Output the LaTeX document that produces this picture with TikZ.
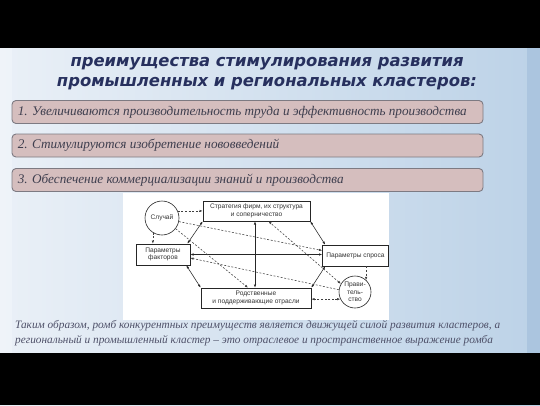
\documentclass[tikz,border=0pt]{standalone}
\usepackage{fontspec}
\setmainfont{Liberation Serif}
\newfontfamily\titlefont{DejaVu Sans}
\newfontfamily\diagfont{Liberation Sans}
\usetikzlibrary{arrows.meta,calc}
\definecolor{titleblue}{HTML}{27305E}
\definecolor{boxfill}{HTML}{D5BEBE}
\definecolor{boxline}{HTML}{7D7A82}
\definecolor{boxtext}{HTML}{3E3E4E}
\definecolor{bgleft}{HTML}{EAF0F7}
\definecolor{bgright}{HTML}{BCD2E7}
\definecolor{edgeright}{HTML}{A7C2DD}
\definecolor{bottomcol}{HTML}{4E5068}
\tikzset{
  item/.style={draw=boxline, line width=0.9pt, fill=boxfill, rounded corners=4pt,
    minimum width=471pt, minimum height=23pt, inner sep=0pt},
  itemtext/.style={anchor=west, text=boxtext, font=\itshape\fontsize{13.2}{15}\selectfont, inner sep=0pt},
  dbox/.style={draw=black!85, line width=0.6pt, fill=white, inner sep=0pt, align=center,
    font=\diagfont\fontsize{6.6}{7.6}\selectfont, text=black!80},
  dcirc/.style={draw=black!85, line width=0.6pt, fill=white, circle, inner sep=0pt, align=center,
    font=\diagfont\fontsize{6.6}{7.4}\selectfont, text=black!80},
  solidlink/.style={line width=0.55pt, black!85, {Latex[length=3.2pt,width=2.4pt]}-{Latex[length=3.2pt,width=2.4pt]}},
  dashlink/.style={line width=0.55pt, black!75, dashed, dash pattern=on 2pt off 1.6pt, -{Latex[length=3.2pt,width=2.4pt]}},
  dashboth/.style={dashlink, {Latex[length=3.2pt,width=2.4pt]}-{Latex[length=3.2pt,width=2.4pt]}},
  titletext/.style={text=titleblue, font=\titlefont\bfseries\itshape\fontsize{16.4}{19}\selectfont, inner sep=0pt},
  bottomtext/.style={anchor=west, text=bottomcol, font=\itshape\fontsize{11.3}{13}\selectfont, inner sep=0pt}
}
\begin{document}
\begin{tikzpicture}[x=1pt,y=-1pt]
\useasboundingbox (0,0) rectangle (540,405);
% background
\shade[left color=bgleft, right color=bgright] (0,0) rectangle (540,405);
\fill[edgeright, opacity=0.8] (527,0) rectangle (540,405);
\fill[white, opacity=0.25] (0,0) rectangle (12,405);
\fill[black] (0,0) rectangle (540,47.5);
\fill[black] (0,353) rectangle (540,405);
% title
\node[titletext] (t2) at (267,64) {преимущества стимулирования развития};
\node[titletext] (t3) at (267,84) {промышленных и региональных кластеров:};
% item boxes
\node[item] (b1) at (247.5,112) {};
\node[itemtext] (b1t) at ([xshift=6pt]b1.west) {1. Увеличиваются производительность труда и эффективность производства};
\node[item] (b2) at (247.5,145.5) {};
\node[itemtext] (b2t) at ([xshift=6pt]b2.west) {2. Стимулируются изобретение нововведений};
\node[item] (b3) at (247.5,180) {};
\node[itemtext] (b3t) at ([xshift=6pt]b3.west) {3. Обеспечение коммерциализации знаний и производства};
% diagram panel
\fill[white] (123,193) rectangle (389,320);
\node[dcirc, minimum size=34pt] (chance) at (162,218) {Случай};
\node[dbox, minimum width=107pt, minimum height=20pt] (strat) at (256.5,211) {Стратегия фирм, их структура\\и соперничество};
\node[dbox, minimum width=54pt, minimum height=21pt] (fact) at (163,254.5) {Параметры\\факторов};
\node[dbox, minimum width=110pt, minimum height=20pt] (rel) at (256,298) {Родственные\\и поддерживающие отрасли};
\node[dbox, minimum width=66pt, minimum height=21pt] (dem) at (355.5,255.5) {Параметры спроса};
\node[dcirc, minimum size=32pt] (gov) at (355,292) {Прави-\\тель-\\ство};
% solid links
\draw[solidlink] (strat.south west) -- ([xshift=-3pt]fact.north east);
\draw[solidlink] ([xshift=-1.5pt]strat.south) -- ([xshift=-1.5pt]strat.south |- rel.north);
\draw[solidlink] (strat.south east) -- ([xshift=3pt]dem.north west);
\draw[solidlink] (fact.east) -- (fact.east -| dem.west);
\draw[solidlink] ([xshift=-4pt]fact.south east) -- (rel.north west);
\draw[solidlink] (rel.north east) -- ([xshift=3pt]dem.south west);
% chance links
\draw[dashlink] (chance.24) -- (chance.24 -| strat.west);
\draw[dashlink] (chance.-122) -- (chance.-122 |- fact.north);
\draw[dashlink] (chance.-12) -- ([yshift=5pt]dem.west);
\draw[dashlink] (chance.-38) -- ([xshift=-8pt]rel.north);
% government links
\draw[dashboth] (gov.206) -- (gov.206 -| rel.east);
\draw[dashlink] (gov.47 |- dem.south) -- (gov.47);
\draw[dashboth] (gov.150) -- ([xshift=12pt]strat.south);
\draw[dashlink] (gov.172) -- ([yshift=-3.5pt]fact.east);
% bottom text
\node[bottomtext] (c1) at (15,326) {Таким образом, ромб конкурентных преимуществ является движущей силой развития кластеров, а};
\node[bottomtext] (c2) at (15,340.5) {региональный и промышленный кластер – это отраслевое и пространственное выражение ромба};
\end{tikzpicture}
\end{document}
